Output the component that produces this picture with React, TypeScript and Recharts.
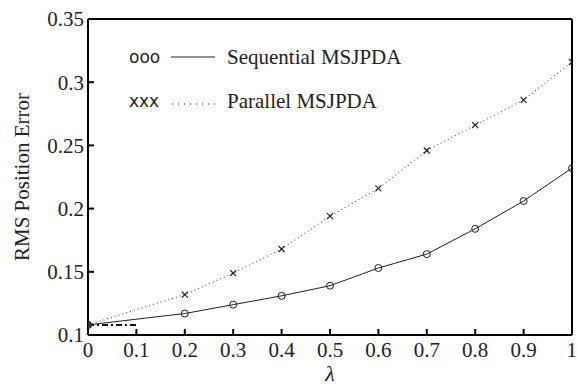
import {
  LineChart,
  Line,
  XAxis,
  YAxis,
} from "recharts";

const lambdas = [0, 0.2, 0.3, 0.4, 0.5, 0.6, 0.7, 0.8, 0.9, 1];
const sequential = [0.108, 0.117, 0.124, 0.131, 0.139, 0.153, 0.164, 0.184, 0.206, 0.232];
const parallel = [0.108, 0.132, 0.149, 0.168, 0.194, 0.216, 0.246, 0.266, 0.286, 0.316];
const baselineX = [0, 0.1];
const baselineY = [0.108, 0.108];

const xTicks = [0, 0.1, 0.2, 0.3, 0.4, 0.5, 0.6, 0.7, 0.8, 0.9, 1];
const yTicks = [0.1, 0.15, 0.2, 0.25, 0.3, 0.35];

const data = lambdas.map((x, i) => ({ x, seq: sequential[i], par: parallel[i] }));
const baseline = baselineX.map((x, i) => ({ x, base: baselineY[i] }));

const font = "'Liberation Serif', serif";
const tickStyle = { fontFamily: font, fontSize: 21, fill: "#222" };

const CircleDot = (p: any) =>
  p.cx == null ? null : (
    <circle key={p.index} cx={p.cx} cy={p.cy} r={3.5} fill="none" stroke="#222" strokeWidth={1} />
  );

const CrossDot = (p: any) =>
  p.cx == null ? null : (
    <g key={p.index} stroke="#222" strokeWidth={1.2}>
      <line x1={p.cx - 3} y1={p.cy - 3} x2={p.cx + 3} y2={p.cy + 3} />
      <line x1={p.cx - 3} y1={p.cy + 3} x2={p.cx + 3} y2={p.cy - 3} />
    </g>
  );

const StartDot = (p: any) =>
  p.index !== 0 ? <g key={p.index} /> : <circle key={p.index} cx={p.cx} cy={p.cy} r={3.5} fill="#333" />;

function LegendBox() {
  const row = { display: "flex", alignItems: "center", height: 44, whiteSpace: "nowrap" as const };
  const sym = { fontFamily: "'DejaVu Sans', sans-serif", fontSize: 17, width: 42, color: "#222" };
  const txt = { fontFamily: font, fontSize: 21, color: "#222", marginLeft: 12 };
  return (
    <div style={{ position: "absolute", left: 129, top: 35 }}>
      <div style={row}>
        <span style={sym}>ooo</span>
        <svg width={44} height={10}>
          <line x1={0} y1={5} x2={44} y2={5} stroke="#222" strokeWidth={1} />
        </svg>
        <span style={txt}>Sequential MSJPDA</span>
      </div>
      <div style={row}>
        <span style={sym}>xxx</span>
        <svg width={44} height={10}>
          <line x1={1} y1={8} x2={44} y2={8} stroke="#222" strokeWidth={1.2} strokeDasharray="1.2 4.8" />
        </svg>
        <span style={txt}>Parallel MSJPDA</span>
      </div>
    </div>
  );
}

export default function App() {
  return (
    <div style={{ position: "absolute", left: 0, top: 0, width: 577, height: 385, background: "#fff" }}>
      <LineChart width={577} height={385} data={data} margin={{ top: 18, right: 4, bottom: 0, left: 0 }}>
        <XAxis
          dataKey="x"
          type="number"
          domain={[0, 1]}
          ticks={xTicks}
          tickFormatter={(v: number) => String(v)}
          allowDataOverflow
          height={50}
          stroke="#000"
          strokeWidth={2}
          tickSize={-6}
          tickMargin={13}
          tick={tickStyle}
          label={{ value: "λ", position: "insideBottom", offset: 4, style: { fontFamily: font, fontStyle: "italic", fontSize: 22, fill: "#222" } }}
        />
        <XAxis
          xAxisId="top"
          dataKey="x"
          type="number"
          orientation="top"
          domain={[0, 1]}
          ticks={xTicks}
          height={1}
          stroke="#000"
          strokeWidth={2}
          tickSize={-6}
          tick={false}
        />
        <YAxis
          type="number"
          domain={[0.1, 0.35]}
          ticks={yTicks}
          tickFormatter={(v: number) => String(+v.toFixed(2))}
          allowDataOverflow
          width={88}
          stroke="#000"
          strokeWidth={2}
          tickSize={-6}
          tickMargin={10}
          tick={tickStyle}
          label={{ value: "RMS Position Error", angle: -90, position: "insideLeft", offset: 22, style: { textAnchor: "middle", fontFamily: font, fontSize: 21, fill: "#222" } }}
        />
        <YAxis
          yAxisId="right"
          type="number"
          orientation="right"
          domain={[0.1, 0.35]}
          ticks={yTicks}
          width={1}
          stroke="#000"
          strokeWidth={2}
          tickSize={-6}
          tick={false}
        />
        <Line
          dataKey="par"
          stroke="#666"
          strokeWidth={1.2}
          strokeDasharray="1 3"
          dot={CrossDot}
          isAnimationActive={false}
        />
        <Line
          dataKey="seq"
          stroke="#222"
          strokeWidth={1}
          dot={CircleDot}
          isAnimationActive={false}
        />
        <Line
          data={baseline}
          dataKey="base"
          stroke="#111"
          strokeWidth={2}
          strokeDasharray="6 3 2 3"
          dot={StartDot}
          isAnimationActive={false}
        />
      </LineChart>
      <LegendBox />
    </div>
  );
}
